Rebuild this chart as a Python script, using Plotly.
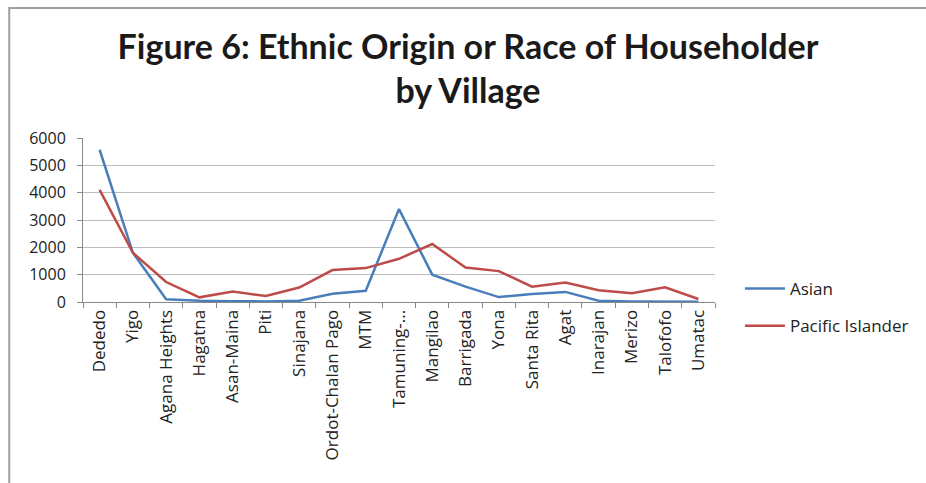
import plotly.graph_objects as go

villages = ["Dededo", "Yigo", "Agana Heights", "Hagatna", "Asan-Maina", "Piti", "Sinajana",
            "Ordot-Chalan Pago", "MTM", "Tamuning-...", "Mangilao", "Barrigada", "Yona",
            "Santa Rita", "Agat", "Inarajan", "Merizo", "Talofofo", "Umatac"]
asian = [5570, 1800, 100, 50, 30, 20, 50, 300, 410, 3400, 1000, 560, 180, 290, 370, 50, 20, 20, 10]
pacific = [4100, 1800, 730, 170, 380, 220, 530, 1170, 1240, 1580, 2120, 1260, 1130, 560, 710, 430, 320, 540, 110]

W, H = 926, 483
L, R, T, B = 83, 209, 138, 181
pw, ph = W - L - R, H - T - B

def px(x):
    return (x - L) / pw

def py(y):
    return (H - B - y) / ph

fig = go.Figure()
fig.add_trace(go.Scatter(x=villages, y=asian, mode="lines", name="Asian",
                         line=dict(color="#4A7EBB", width=2.5), legendgroup="a"))
fig.add_trace(go.Scatter(x=villages, y=pacific, mode="lines", name="Pacific Islander",
                         line=dict(color="#BE4B48", width=2.5), legendgroup="b"))

fig.update_layout(
    width=W, height=H,
    margin=dict(l=L, r=R, t=T, b=B),
    paper_bgcolor="white", plot_bgcolor="white",
    font=dict(family="Open Sans, Lato, sans-serif", size=12, color="#333"),
    title=dict(text="<b>Figure 6: Ethnic Origin or Race of Householder<br>by Village</b>",
               x=468 / W, xanchor="center", y=1 - 59 / H, yanchor="middle",
               font=dict(family="Lato, Open Sans, sans-serif", size=34, color="#1a1a1a")),
    showlegend=True,
    legend=dict(x=px(742), xanchor="left", y=py(271), yanchor="top",
                traceorder="grouped", tracegroupgap=12, itemwidth=40,
                font=dict(family="Open Sans, sans-serif", size=17, color="#222"),
                bgcolor="rgba(0,0,0,0)"),
    xaxis=dict(type="category", tickangle=-90, showgrid=False, showline=True,
               linecolor="#888", linewidth=1, ticks="outside", ticklen=5,
               tickcolor="#888", tickson="boundaries",
               tickfont=dict(family="Open Sans, sans-serif", size=17, color="#222"),
               range=[-0.5, len(villages) - 0.5]),
    yaxis=dict(range=[0, 6000], dtick=1000, showgrid=True, gridcolor="#bdbdbd",
               gridwidth=1, showline=True, linecolor="#888", linewidth=1,
               ticks="outside", ticklen=5, tickcolor="#888", zeroline=False,
               ticklabelstandoff=8,
               tickfont=dict(family="Open Sans, sans-serif", size=16, color="#222")),
    shapes=[dict(type="rect", xref="paper", yref="paper",
                 x0=px(9), x1=px(W + 5), y0=py(H + 5), y1=py(8),
                 line=dict(color="#a0a0a0", width=2))],
)

fig.write_html("out.html")
